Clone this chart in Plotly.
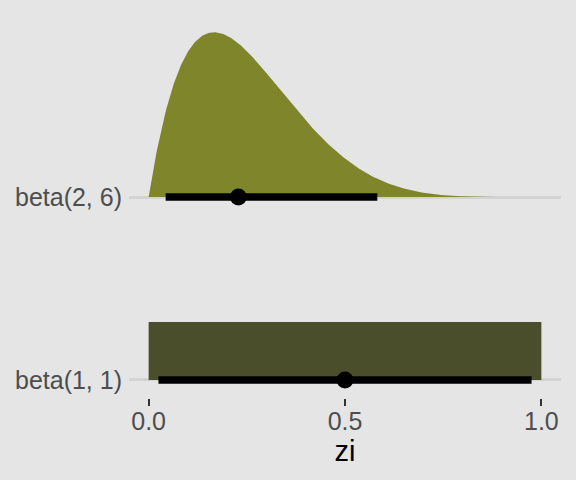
import math
import numpy as np
import plotly.graph_objects as go

# ---- data ----
dist_labels = ["beta(1, 1)", "beta(2, 6)"]
shape_a = [1, 2]
shape_b = [1, 6]
medians = [0.5, 0.2285]
lower_95 = [0.025, 0.0433]
upper_95 = [0.975, 0.5823]
x_ticks = [0.0, 0.5, 1.0]
x_tick_labels = ["0.0", "0.5", "1.0"]

# ---- style ----
slab_colors = ["#4A4E2A", "#7F852B"]
slab_max_height = [0.317, 0.9]
bg = "#E5E5E5"
font_family = "Liberation Sans, Arial, Helvetica, sans-serif"


def beta_pdf(x, a, b):
    c = math.gamma(a + b) / (math.gamma(a) * math.gamma(b))
    return c * np.power(x, a - 1) * np.power(1 - x, b - 1)


fig = go.Figure()
grid = np.linspace(0.0, 1.0, 401)
for i, lab in enumerate(dist_labels):
    base = i + 1
    dens = beta_pdf(grid, shape_a[i], shape_b[i])
    dens = dens / dens.max() * slab_max_height[i]
    xs = np.concatenate([[grid[0]], grid, [grid[-1]]])
    ys = np.concatenate([[base], base + dens, [base]])
    fig.add_trace(go.Scatter(x=xs, y=ys, mode="lines", fill="toself",
                             fillcolor=slab_colors[i], line=dict(width=0),
                             hoverinfo="skip", showlegend=False))
    fig.add_trace(go.Scatter(x=[lower_95[i], upper_95[i]], y=[base, base],
                             mode="lines", line=dict(color="black", width=7.5),
                             showlegend=False))
    fig.add_trace(go.Scatter(x=[medians[i]], y=[base], mode="markers",
                             marker=dict(color="black", size=17),
                             showlegend=False))

fig.update_layout(
    width=576, height=480,
    margin=dict(l=129.4, r=15.4, t=10, b=82),
    paper_bgcolor=bg, plot_bgcolor=bg,
    font=dict(family=font_family, size=25, color="#4D4D4D"),
    xaxis=dict(range=[-0.05, 1.05], tickvals=x_ticks, ticktext=x_tick_labels,
               showgrid=False, zeroline=False, showline=False,
               ticks="outside", ticklen=7, tickwidth=2, tickcolor="#333333",
               ticklabelstandoff=-6,
               tickfont=dict(size=25, color="#4D4D4D"),
               title=dict(text="zi", font=dict(size=29, color="black"), standoff=2)),
    yaxis=dict(range=[0.9016, 3.0219], tickvals=[1, 2], ticktext=dist_labels,
               showgrid=True, gridcolor="#D3D3D3", gridwidth=2.5,
               zeroline=False, showline=False,
               ticks="outside", ticklen=1, tickcolor=bg,
               tickfont=dict(size=25, color="#4D4D4D")),
)

fig.write_html("out.html", config={"displayModeBar": False},
               post_script="document.body.style.margin='0';")
